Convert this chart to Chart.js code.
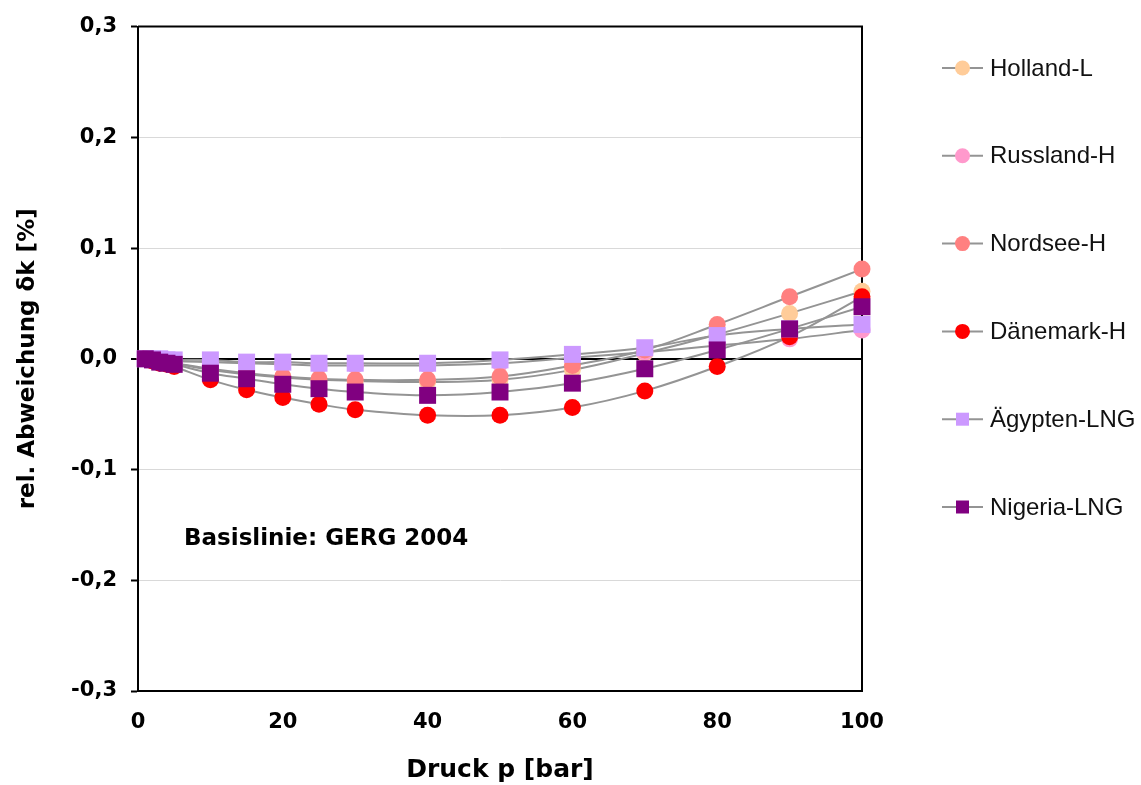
<!DOCTYPE html>
<html>
<head>
<meta charset="utf-8">
<script src="https://cdn.jsdelivr.net/npm/chart.js@4.4.1/dist/chart.umd.min.js"></script>
<style>
  html, body { margin: 0; padding: 0; background: #fff; }
  #wrap { width: 1141px; height: 785px; position: relative; }
</style>
</head>
<body>
<div id="wrap"><canvas id="chart_gerg"></canvas></div>
<script>
// Druck in bar
const pressures = [1, 2, 3, 4, 5, 10, 15, 20, 25, 30, 40, 50, 60, 70, 80, 90, 100];

// rel. Abweichung in %
const hollandL   = [0, -0.001, -0.002, -0.003, -0.004, -0.010, -0.014, -0.017, -0.019, -0.020, -0.021, -0.019, -0.010, 0.005, 0.022, 0.041, 0.061];
const russlandH  = [0, 0, -0.001, -0.001, -0.002, -0.003, -0.004, -0.005, -0.006, -0.006, -0.006, -0.004, 0.001, 0.006, 0.012, 0.018, 0.026];
const nordseeH   = [0, -0.001, -0.002, -0.003, -0.004, -0.009, -0.013, -0.016, -0.018, -0.019, -0.019, -0.016, -0.006, 0.008, 0.031, 0.056, 0.081];
const daenemarkH = [0, -0.002, -0.004, -0.005, -0.007, -0.019, -0.028, -0.035, -0.041, -0.046, -0.051, -0.051, -0.044, -0.029, -0.007, 0.020, 0.056];
const aegyptenLNG = [0, 0, 0, -0.001, -0.001, -0.001, -0.003, -0.003, -0.004, -0.004, -0.004, -0.001, 0.004, 0.010, 0.021, 0.027, 0.031];
const nigeriaLNG = [0, -0.001, -0.003, -0.004, -0.005, -0.013, -0.018, -0.023, -0.027, -0.030, -0.033, -0.030, -0.022, -0.009, 0.008, 0.027, 0.047];

const seriesNames = ['Holland-L', 'Russland-H', 'Nordsee-H', 'Dänemark-H', 'Ägypten-LNG', 'Nigeria-LNG'];
const seriesValues = [hollandL, russlandH, nordseeH, daenemarkH, aegyptenLNG, nigeriaLNG];
const seriesColors = ['#FFCC99', '#FF99CC', '#FF8080', '#FF0000', '#CC99FF', '#800080'];
const seriesMarkers = ['circle', 'circle', 'circle', 'circle', 'rect', 'rect'];

const annotationText = 'Basislinie: GERG 2004';

const boldFont = "'DejaVu Sans', sans-serif";
const lineGray = '#949494';

function markerRadius(style) {
    return style === 'rect' ? 12 : 8.5;
}

const datasets = seriesNames.map((name, i) => ({
    label: name,
    data: pressures.map((p, j) => ({ x: p, y: seriesValues[i][j] })),
    borderColor: lineGray,
    borderWidth: 2,
    tension: 0.4,
    pointStyle: seriesMarkers[i],
    pointRadius: markerRadius(seriesMarkers[i]),
    pointHoverRadius: markerRadius(seriesMarkers[i]),
    pointBackgroundColor: seriesColors[i],
    pointBorderColor: seriesColors[i],
    pointBorderWidth: 0,
    order: seriesNames.length - 1 - i,
    clip: false
}));

// top/right frame of the plot area
const frame = {
    id: 'frame',
    beforeDatasetsDraw(chart) {
        const { ctx, chartArea: a } = chart;
        ctx.save();
        ctx.strokeStyle = '#000';
        ctx.lineWidth = 2;
        ctx.beginPath();
        ctx.moveTo(a.left, a.top);
        ctx.lineTo(a.right, a.top);
        ctx.lineTo(a.right, a.bottom);
        ctx.stroke();
        ctx.restore();
    }
};

// note inside the plot + legend on the right
const extras = {
    id: 'extras',
    afterDraw(chart) {
        const { ctx, chartArea: a } = chart;
        ctx.save();
        ctx.fillStyle = '#000';
        ctx.font = "bold 23px " + boldFont;
        ctx.textAlign = 'left';
        ctx.textBaseline = 'middle';
        ctx.fillText(annotationText, a.left + 46, 539);

        ctx.font = "24px 'Liberation Sans', Arial, sans-serif";
        seriesNames.forEach((name, i) => {
            const y = 68 + i * 87.8;
            const x0 = a.right + 80;
            ctx.strokeStyle = lineGray;
            ctx.lineWidth = 2;
            ctx.beginPath();
            ctx.moveTo(x0, y);
            ctx.lineTo(x0 + 41, y);
            ctx.stroke();
            ctx.fillStyle = seriesColors[i];
            if (seriesMarkers[i] === 'rect') {
                ctx.fillRect(x0 + 14, y - 6.5, 13, 13);
            } else {
                ctx.beginPath();
                ctx.arc(x0 + 20.5, y, 7.5, 0, Math.PI * 2);
                ctx.fill();
            }
            ctx.fillStyle = '#111';
            ctx.fillText(name, x0 + 48, y + 1);
        });
        ctx.restore();
    }
};

new Chart(document.getElementById('chart_gerg'), {
    type: 'line',
    data: { datasets: datasets },
    plugins: [frame, extras],
    options: {
        responsive: true,
        maintainAspectRatio: false,
        animation: false,
        layout: { padding: { top: 23, right: 279, bottom: 0, left: 0 } },
        plugins: {
            legend: { display: false },
            tooltip: { enabled: false }
        },
        scales: {
            x: {
                type: 'linear',
                min: 0,
                max: 100,
                afterFit: (scale) => { scale.height = 94; },
                ticks: {
                    stepSize: 20,
                    color: '#000',
                    padding: 19,
                    maxRotation: 0,
                    font: { family: boldFont, size: 21, weight: 'bold' }
                },
                grid: { display: false, drawTicks: false },
                border: { display: true, color: '#000', width: 2 },
                title: {
                    display: true,
                    text: 'Druck p [bar]',
                    color: '#000',
                    padding: { top: 0, bottom: 0 },
                    font: { family: boldFont, size: 25, weight: 'bold' }
                }
            },
            y: {
                min: -0.3,
                max: 0.3,
                afterFit: (scale) => { scale.width = 138; },
                ticks: {
                    stepSize: 0.1,
                    color: '#000',
                    padding: 14,
                    font: { family: boldFont, size: 21, weight: 'bold' },
                    callback: (v) => (Math.abs(v) < 1e-9 ? 0 : v).toFixed(1).replace('.', ',')
                },
                grid: {
                    drawTicks: true,
                    tickLength: 7,
                    tickColor: '#000',
                    tickWidth: 2,
                    color: (c) => (Math.abs(c.tick.value) < 1e-9 ? '#000' : '#d9d9d9'),
                    lineWidth: (c) => (Math.abs(c.tick.value) < 1e-9 ? 2 : 1)
                },
                border: { display: true, color: '#000', width: 2 },
                title: {
                    display: true,
                    text: 'rel. Abweichung δk [%]',
                    color: '#000',
                    padding: { top: 14, bottom: 0 },
                    font: { family: boldFont, size: 23, weight: 'bold' }
                }
            }
        }
    }
});
</script>
</body>
</html>
